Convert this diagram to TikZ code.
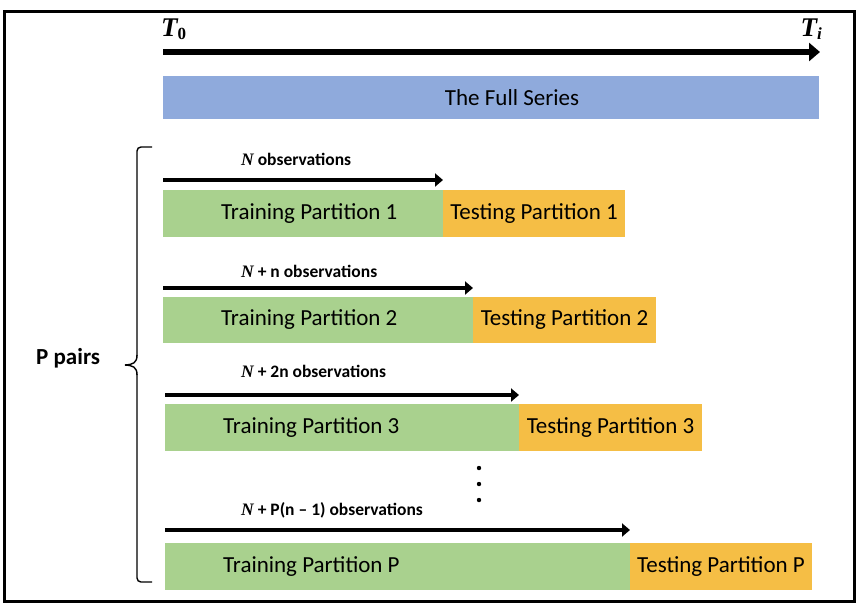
\documentclass[tikz,border=0pt]{standalone}
\usepackage{fontspec}
\setmainfont{Carlito}
\newfontfamily\serifbi{Liberation Serif}
\usetikzlibrary{arrows.meta}
\definecolor{fullblue}{HTML}{8FAADC}
\definecolor{traingreen}{HTML}{A9D18E}
\definecolor{testorange}{HTML}{F5BE45}
\newcommand{\bN}{{\serifbi\bfseries\itshape N}}
\begin{document}
\begin{tikzpicture}[x=1pt,y=-1pt,
  bar/.style={minimum height=46.5pt, inner sep=0pt, outer sep=0pt},
  train/.style={bar, fill=traingreen, anchor=north west},
  test/.style={bar, fill=testorange, anchor=west, font=\fontsize{23}{27}\selectfont},
  lbl/.style={font=\fontsize{23}{27}\selectfont, anchor=west, inner sep=0pt},
  obs/.style={font=\bfseries\fontsize{17.5}{20}\selectfont, anchor=base west, inner sep=0pt},
  tlab/.style={font=\serifbi\bfseries\itshape\fontsize{27}{31}\selectfont, anchor=base west, inner sep=0pt},
  rowarrow/.style={line width=4.5pt, -{Triangle[length=8pt,width=13pt]}},
  mainarrow/.style={line width=6pt, -{Triangle[length=11pt,width=18pt]}},
]
\useasboundingbox (0,0) rectangle (864,606);
\draw[line width=3pt] (4.5,11.5) rectangle (854.5,601.5);

% time axis
\coordinate (t0) at (163,52);
\coordinate (ti) at (820,52);
\draw[mainarrow] (t0) -- (ti);
\node[tlab] (Tzero) at (161,36) {T\raisebox{-3.5pt}{\upshape\fontsize{17}{19}\selectfont 0}};
\node[tlab, anchor=base east] (Tlast) at (822,36) {T\raisebox{-3.5pt}{\fontsize{17}{19}\selectfont i}};

% full series
\node[bar, fill=fullblue, anchor=north west, minimum width=656pt, minimum height=43pt] (full) at (163,76) {};
\node[font=\fontsize{23}{27}\selectfont, inner sep=0pt] (fulllab) at (512,97.5) {The Full Series};

% row 1
\node[train, minimum width=280pt] (tr1) at (163,190) {};
\node[lbl] (tr1lab) at ([xshift=58pt]tr1.west) {Training Partition 1};
\node[test, minimum width=182pt] (te1) at (tr1.east) {Testing Partition 1};
\draw[rowarrow] ([yshift=10pt]tr1.north west) -- ([yshift=10pt]tr1.north east);
\node[obs] (o1) at (241,165) {\bN{} observations};

% row 2
\node[train, minimum width=310pt] (tr2) at (163,296.5) {};
\node[lbl] (tr2lab) at ([xshift=58pt]tr2.west) {Training Partition 2};
\node[test, minimum width=183pt] (te2) at (tr2.east) {Testing Partition 2};
\draw[rowarrow] ([yshift=8.5pt]tr2.north west) -- ([yshift=8.5pt]tr2.north east);
\node[obs] (o2) at (241,277) {\bN{} + n observations};

% row 3
\node[train, minimum width=354pt] (tr3) at (165,404) {};
\node[lbl] (tr3lab) at ([xshift=58pt]tr3.west) {Training Partition 3};
\node[test, minimum width=183pt] (te3) at (tr3.east) {Testing Partition 3};
\draw[rowarrow] ([yshift=9pt]tr3.north west) -- ([yshift=9pt]tr3.north east);
\node[obs] (o3) at (241,377) {\bN{} + 2n observations};

% dots
\fill (479,468) circle (2.2pt);
\fill (479,484) circle (2.2pt);
\fill (479,500) circle (2.2pt);

% row P
\node[train, minimum width=465pt] (trP) at (165,543) {};
\node[lbl] (trPlab) at ([xshift=58pt]trP.west) {Training Partition P};
\node[test, minimum width=182pt] (teP) at (trP.east) {Testing Partition P};
\draw[rowarrow] ([yshift=13pt]trP.north west) -- ([yshift=13pt]trP.north east);
\node[obs] (oP) at (241,515) {\bN{} + P(n – 1) observations};

% brace and label
\draw[line width=1.4pt, rounded corners=4pt] (152,147) -- (137,147) -- (137,356);
\draw[line width=1.4pt] (137,355) .. controls (137,363) and (133,364.5) .. (125,365);
\draw[line width=1.4pt] (125,365) .. controls (133,365.5) and (137,367) .. (137,375);
\draw[line width=1.4pt, rounded corners=4pt] (137,374) -- (137,582) -- (152,582);
\node[font=\bfseries\fontsize{23}{27}\selectfont, anchor=west, inner sep=0pt] (pp) at (36,358) {P pairs};
\end{tikzpicture}
\end{document}
